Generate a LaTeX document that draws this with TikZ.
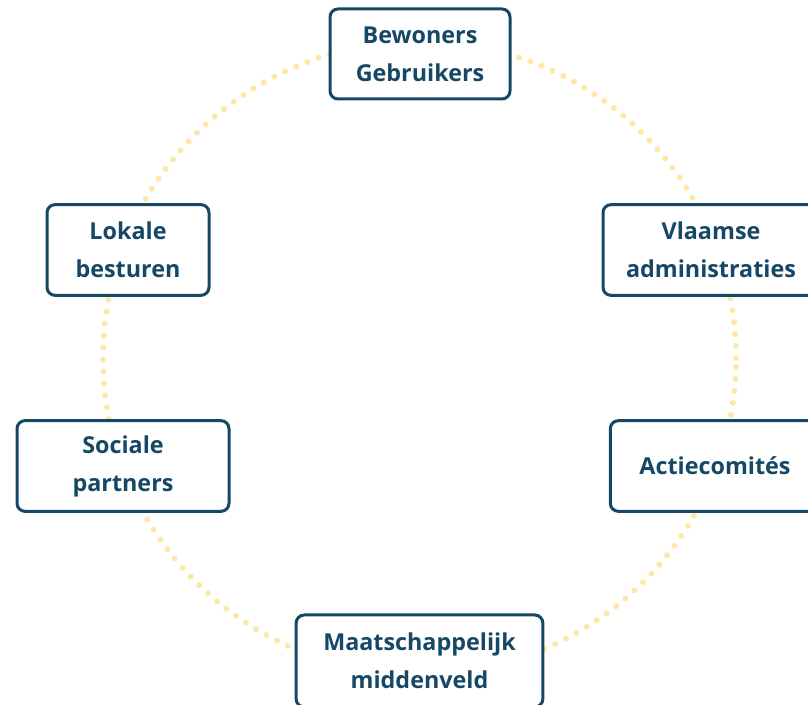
\documentclass[tikz,border=0pt]{standalone}
\usepackage{fontspec}
\setmainfont{Open Sans}
\usepackage{tikz}

\definecolor{boxblue}{HTML}{164866}
\definecolor{dotyellow}{HTML}{FCE9A8}

\begin{document}
\begin{tikzpicture}[x=0.75pt, y=-0.75pt,
		partner/.style={draw=boxblue, line width=2.25pt, rounded corners=6pt,
			fill=white, text=boxblue, align=center,
			font=\fontsize{17.5}{28.5}\selectfont\bfseries, inner sep=0pt},
		ring/.style={dotyellow, line width=4.5pt, line cap=round,
			dash pattern=on 0pt off 9pt}]
		\useasboundingbox (0,0) rectangle (808,705);

		% dotted ring behind the boxes
		\coordinate (centre) at (419.5,358);
		\draw[ring] (centre) circle[radius=237.4pt];

		\node[partner, minimum width=135pt, minimum height=67.5pt] (bewoners) at (420,54) {Bewoners\\Gebruikers};
		\node[partner, minimum width=121.5pt, minimum height=68pt] (lokale) at (128,250) {Lokale\\besturen};
		\node[partner, minimum width=162pt, minimum height=68pt] (vlaamse) at (711,250) {Vlaamse\\administraties};
		\node[partner, minimum width=159pt, minimum height=68pt] (sociale) at (123,466) {Sociale\\partners};
		\node[partner, minimum width=157pt, minimum height=68pt] (actie) at (715,466) {Actiecomités};
		\node[partner, minimum width=185pt, minimum height=69pt] (maatschappij) at (419.5,661) {Maatschappelijk\\middenveld};

\end{tikzpicture}
\end{document}
